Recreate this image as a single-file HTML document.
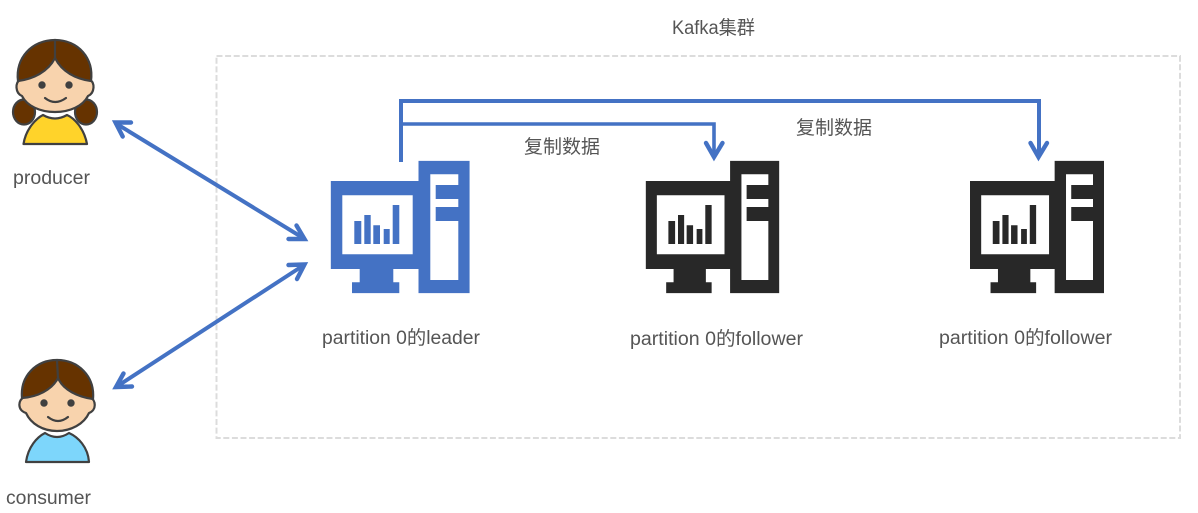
<!DOCTYPE html>
<html>
<head>
<meta charset="utf-8">
<style>
html,body{margin:0;padding:0;background:#fff;width:1198px;height:513px;overflow:hidden}
svg{display:block}
text{font-family:"Liberation Sans","Noto Sans CJK SC",sans-serif;font-size:19px;fill:#555}
</style>
</head>
<body>
<svg width="1198" height="513" viewBox="0 0 1198 513" xmlns="http://www.w3.org/2000/svg">
<defs>
<symbol id="pc" viewBox="330.7 160.7 139 132.6" preserveAspectRatio="none">
<path d="M418.5 160.7H469.7V293.3H418.5V269H393.3V282.3H399.3V293.3H352V282.3H359.7V269H330.7V181H418.5Z"/>
<path fill="#fff" d="M342.3 195.3H412.7V254.3H342.3ZM430.3 174.3H458.3V185H435.7V199H458.3V207H435.7V221H458.3V280H430.3Z"/>
<path d="M354.3 221h7v23h-7zM364.3 215h6.4v29h-6.4zM373.3 225.3h6.7V244h-6.7zM383.7 229h6V244h-6zM392.7 205h6.6v39h-6.6z"/>
</symbol>
</defs>

<rect x="216.5" y="56" width="963.5" height="382" fill="none" stroke="#dcdcdc" stroke-width="2" stroke-dasharray="6 2.6"/>

<!-- Producer -->
<g stroke="#404040" stroke-width="2.2" stroke-linejoin="round" stroke-linecap="round">
<ellipse cx="24" cy="112" rx="11" ry="12.5" fill="#663300"/>
<ellipse cx="86" cy="112" rx="11" ry="12.5" fill="#663300"/>
<path d="M23.5 144C26 128 37 118 43 115Q55 122 67 115C74 118 84 128 87 144Z" fill="#ffd32a"/>
<path d="M20 80C15 82 15 93 22 96C27 106 40 112 55 112C70 112 83 106 88 96C95 93 95 82 90 80L55 50Z" fill="#f8d3ad"/>
<path d="M18 81C15 58 32 40 55 40C78 40 94 58 91 81C76 79 62 72 55 58C48 72 33 79 18 81Z" fill="#663300"/>
<path d="M55 40V58" fill="none"/>
<path d="M45 98Q55 106 66 98" fill="none"/>
</g>
<circle cx="42" cy="85" r="3.7" fill="#404040"/>
<circle cx="69" cy="85" r="3.7" fill="#404040"/>

<!-- Consumer -->
<g stroke="#404040" stroke-width="2.2" stroke-linejoin="round" stroke-linecap="round">
<path d="M26 462C28 447 37 437 45 433Q57 441 69 433C78 437 88 447 89 462Z" fill="#7dd6fb"/>
<path d="M24 397C18 400 17 410 26 413C31 424 43 431 57 431C71 431 84 424 89 413C97 410 96 400 90 397L57 368Z" fill="#f8d3ad"/>
<path d="M22 398C20 376 36 360 57 360C78 360 95 376 93 399C78 397 63 390 58 378C52 390 37 397 22 398Z" fill="#663300"/>
<path d="M57 360L58 378" fill="none"/>
<path d="M48 417Q58 425 68 417" fill="none"/>
</g>
<circle cx="44" cy="403" r="3.7" fill="#404040"/>
<circle cx="71" cy="403" r="3.7" fill="#404040"/>

<!-- Computers -->
<use href="#pc" x="330.7" y="160.7" width="139" height="132.6" fill="#4472c4"/>
<use href="#pc" x="645.7" y="160.7" width="133.6" height="132.6" fill="#282828"/>
<use href="#pc" x="970" y="160.7" width="134" height="132.6" fill="#282828"/>

<!-- Connectors -->
<g fill="none" stroke="#4472c4" stroke-linejoin="miter">
<path d="M401 162V101H1039V157" stroke-width="4"/>
<path d="M401 124H714V156" stroke-width="3.6"/>
<g stroke-width="4.4" stroke-linecap="round">
<path d="M706 143L714 157L722.5 143"/>
<path d="M1030.5 143L1038.5 157L1047 143"/>
<path d="M116 123.5L304 238.5" stroke-width="4"/>
<path d="M131 122.5L115.5 122.5L122.7 136.5"/>
<path d="M296.5 225.5L304.5 239L288.5 239"/>
<path d="M116 387L304 265" stroke-width="4"/>
<path d="M288.5 265L304.5 264.5L297 279"/>
<path d="M123.5 373.5L116 387L132 386.5"/>
</g>
</g>

<!-- Labels -->
<text x="672" y="34" textLength="83" lengthAdjust="spacingAndGlyphs">Kafka集群</text>
<text x="524" y="153" textLength="76" lengthAdjust="spacingAndGlyphs">复制数据</text>
<text x="796" y="134" textLength="76" lengthAdjust="spacingAndGlyphs">复制数据</text>
<text x="13" y="184" textLength="77" lengthAdjust="spacingAndGlyphs">producer</text>
<text x="6" y="504" textLength="85" lengthAdjust="spacingAndGlyphs">consumer</text>
<text x="322" y="344" textLength="158" lengthAdjust="spacingAndGlyphs">partition 0的leader</text>
<text x="630" y="345" textLength="173" lengthAdjust="spacingAndGlyphs">partition 0的follower</text>
<text x="939" y="344" textLength="173" lengthAdjust="spacingAndGlyphs">partition 0的follower</text>
</svg>
</body>
</html>
